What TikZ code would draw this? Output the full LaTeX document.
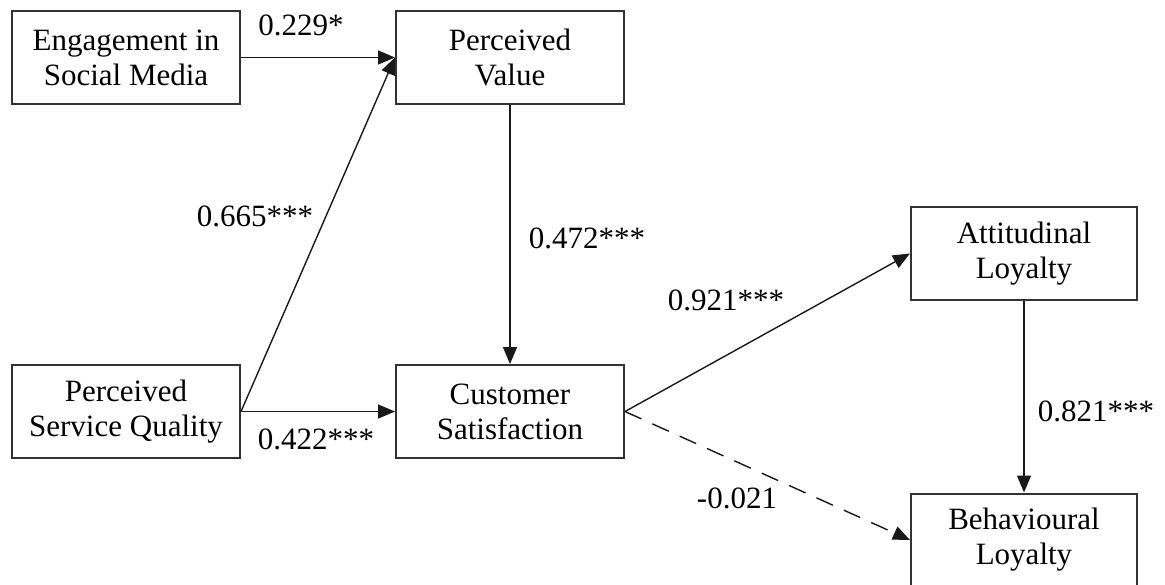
\documentclass[tikz,border=0pt]{standalone}
\usepackage{fontspec}
\setmainfont{Liberation Serif}
\usetikzlibrary{arrows.meta}
\begin{document}
\begin{tikzpicture}[x=0.5pt,y=-0.5pt,
  construct/.style={draw=black!80, line width=1pt, fill=white, align=center,
    minimum width=114pt, minimum height=46.5pt, inner sep=0pt,
    font=\fontsize{15.5}{17.5}\selectfont},
  path/.style={draw=black!90, line width=0.7pt,
    -{Triangle[length=8.5pt,width=7pt]}},
  coef/.style={font=\fontsize{15.5}{17.5}\selectfont, inner sep=0pt}]
\useasboundingbox (0,0) rectangle (1165,584);
% constructs
\node[construct] (esm) at (126,57.5) {Engagement in\\Social Media};
\node[construct] (pv)  at (510,57.5) {Perceived\\Value};
\node[construct] (psq) at (126,411.5) {Perceived\\Service Quality};
\node[construct] (cs)  at (510,411.5) {Customer\\Satisfaction};
\node[construct, minimum width=113pt] (al) at (1024,253.5) {Attitudinal\\Loyalty};
\node[construct, minimum width=113pt] (bl) at (1024,540) {Behavioural\\Loyalty};
% structural paths
\draw[path] (esm.east) -- (pv.west);
\draw[path] (psq.east) -- (pv.west);
\draw[path] (psq.east) -- (cs.west);
\draw[path] (pv.south) -- (cs.north);
\draw[path] (cs.east) -- (al.west);
\draw[path, dash pattern=on 9pt off 6pt] (cs.east) -- (bl.west);
\draw[path] (al.south) -- (bl.north);
% path coefficients
\node[coef] (c1) at (301,25) {0.229*};
\node[coef] (c2) at (255,216) {0.665***};
\node[coef] (c3) at (587,238) {0.472***};
\node[coef] (c4) at (726,300) {0.921***};
\node[coef] (c5) at (316,439) {0.422***};
\node[coef] (c6) at (737,498) {-0.021};
\node[coef] (c7) at (1096,411) {0.821***};
\end{tikzpicture}
\end{document}
